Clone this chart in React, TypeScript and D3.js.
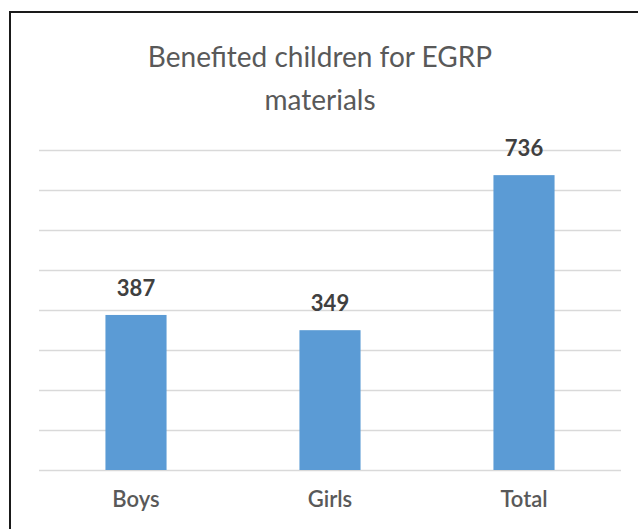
import React from "react";
import * as d3 from "d3";

const categories = ["Boys", "Girls", "Total"];
const values = [387, 349, 736];
const yTicks = [0, 100, 200, 300, 400, 500, 600, 700, 800];
const titleLines = ["Benefited children for EGRP", "materials"];

export default function App() {
  const W = 638;
  const H = 529;
  const left = 39;
  const right = 621;
  const top = 149.5;
  const bottom = 470;

  const x = d3.scaleBand<string>().domain(categories).range([left, right]).paddingInner(0.685).paddingOuter(0.3425);
  const y = d3.scaleLinear().domain([0, 800]).range([bottom, top]);
  const font = "Lato, 'Open Sans', sans-serif";

  return (
    <svg width={W} height={H} style={{ position: "absolute", left: 0, top: 0, background: "#fff" }}>
      <rect x={0} y={0} width={W} height={H} fill="#fff" />
      <rect x={10} y={12} width={W + 20} height={H + 20} fill="none" stroke="#1a1a1a" strokeWidth={2} />
      {titleLines.map((t, i) => (
        <text key={i} x={320} y={67 + i * 43} textAnchor="middle" fontFamily={font} fontSize={28} fill="#595959">
          {t}
        </text>
      ))}
      {yTicks.map((t) => (
        <line key={t} x1={left} x2={right} y1={Math.round(y(t)) + 0.5} y2={Math.round(y(t)) + 0.5} stroke="#d9d9d9" strokeWidth={1.5} />
      ))}
      {categories.map((c, i) => (
        <g key={c}>
          <rect x={x(c)} y={y(values[i])} width={x.bandwidth()} height={bottom - y(values[i])} fill="#5b9bd5" />
          <text x={(x(c) as number) + x.bandwidth() / 2} y={y(values[i]) - 19} textAnchor="middle" fontFamily={font} fontWeight={700} fontSize={22} fill="#404040">
            {values[i]}
          </text>
          <text x={(x(c) as number) + x.bandwidth() / 2} y={507} textAnchor="middle" fontFamily={font} fontWeight={600} fontSize={22} fill="#595959">
            {c}
          </text>
        </g>
      ))}
    </svg>
  );
}
